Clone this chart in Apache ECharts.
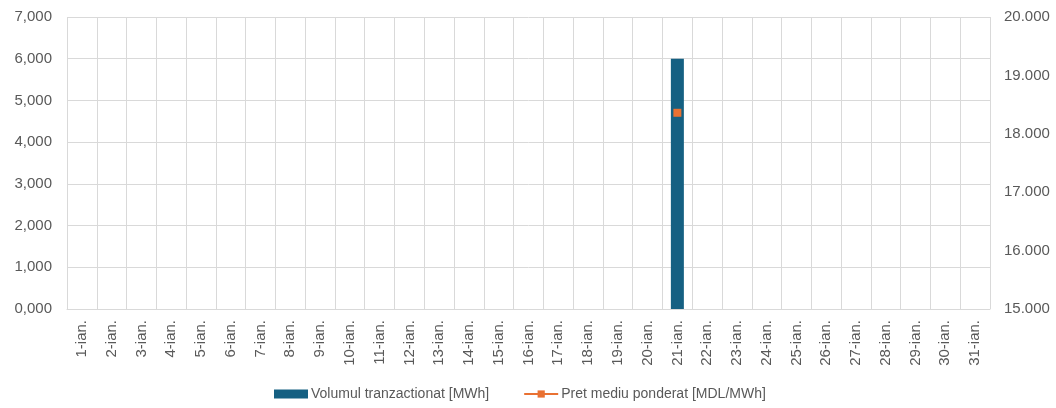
<!DOCTYPE html>
<html>
<head>
<meta charset="utf-8">
<script src="https://cdn.jsdelivr.net/npm/echarts@6/dist/echarts.min.js"></script>
<style>
  html, body { margin: 0; padding: 0; background: #ffffff; }
  #chart { width: 1056px; height: 408px; }
</style>
</head>
<body>
<div id="chart"></div>
<script>
const categories = ['1-ian.','2-ian.','3-ian.','4-ian.','5-ian.','6-ian.','7-ian.','8-ian.','9-ian.','10-ian.',
  '11-ian.','12-ian.','13-ian.','14-ian.','15-ian.','16-ian.','17-ian.','18-ian.','19-ian.','20-ian.',
  '21-ian.','22-ian.','23-ian.','24-ian.','25-ian.','26-ian.','27-ian.','28-ian.','29-ian.','30-ian.','31-ian.'];
const volumeName = 'Volumul tranzactionat [MWh]';
const priceName = 'Pret mediu ponderat [MDL/MWh]';
const volume = [null,null,null,null,null,null,null,null,null,null,
  null,null,null,null,null,null,null,null,null,null,
  6,null,null,null,null,null,null,null,null,null,null];
const price = [null,null,null,null,null,null,null,null,null,null,
  null,null,null,null,null,null,null,null,null,null,
  18.36,null,null,null,null,null,null,null,null,null,null];

const chart = echarts.init(document.getElementById('chart'));
const txt = '#595959';
const gridC = '#d9d9d9';
const font = 'Liberation Sans';
chart.setOption({
  animation: false,
  grid: { left: 67, right: 66, top: 17, bottom: 99, containLabel: false },
  legend: {
    left: 269, top: 382,
    itemWidth: 34, itemHeight: 9, itemGap: 34,
    textStyle: { color: txt, fontSize: 14, fontFamily: font, padding: [0, 0, 0, -2] },
    data: [
      { name: volumeName, icon: 'rect' },
      { name: priceName }
    ]
  },
  xAxis: {
    type: 'category',
    data: categories,
    boundaryGap: true,
    axisLine: { show: true, lineStyle: { color: gridC, width: 1 } },
    axisTick: { show: false },
    splitLine: { show: true, lineStyle: { color: gridC, width: 1 } },
    axisLabel: { rotate: 90, interval: 0, color: txt, fontSize: 15, fontFamily: font, margin: 11 }
  },
  yAxis: [
    {
      type: 'value', min: 0, max: 7, interval: 1, position: 'left',
      axisLine: { show: false }, axisTick: { show: false },
      splitLine: { show: true, lineStyle: { color: gridC, width: 1 } },
      axisLabel: { color: txt, fontSize: 15, fontFamily: font, margin: 15,
        formatter: v => v.toFixed(3).replace('.', ',') }
    },
    {
      type: 'value', min: 15, max: 20, interval: 1, position: 'right',
      axisLine: { show: false }, axisTick: { show: false },
      splitLine: { show: false },
      axisLabel: { color: txt, fontSize: 15, fontFamily: font, margin: 14,
        formatter: v => v.toFixed(3) }
    }
  ],
  series: [
    {
      name: volumeName, type: 'bar', yAxisIndex: 0, data: volume,
      barWidth: 13, barGap: '0%',
      itemStyle: { color: '#156082' }
    },
    {
      name: priceName, type: 'line', yAxisIndex: 1, data: price,
      symbol: 'rect', symbolSize: 8, showSymbol: true, connectNulls: false,
      lineStyle: { color: '#E97132', width: 3 },
      itemStyle: { color: '#E97132' }
    }
  ]
});
</script>
</body>
</html>
